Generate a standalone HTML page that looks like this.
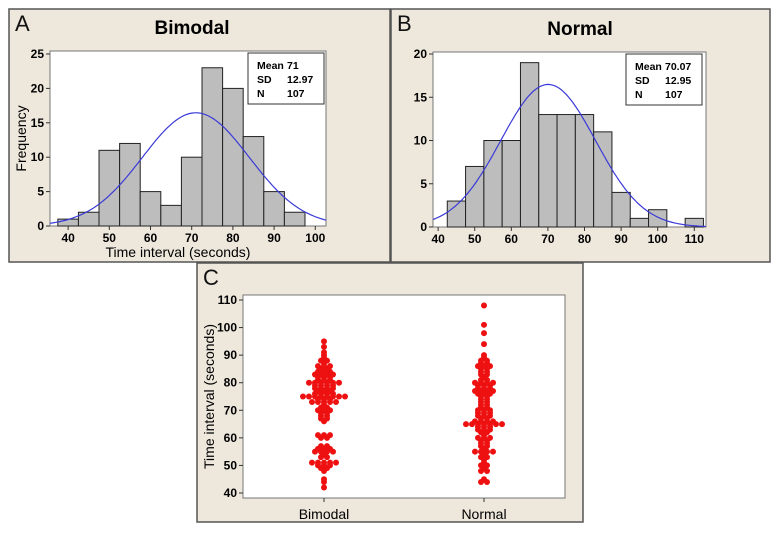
<!DOCTYPE html>
<html><head><meta charset="utf-8"><style>
body{margin:0;background:#fff;width:780px;height:531px;overflow:hidden;font-family:"Liberation Sans",sans-serif}
svg text{font-family:"Liberation Sans",sans-serif}
</style></head><body>
<svg id="fig" width="780" height="531" xmlns="http://www.w3.org/2000/svg"></svg>
<script>
const binCenters=[40,45,50,55,60,65,70,75,80,85,90,95,100,105,110];
const bimodalCounts=[1,2,11,12,5,3,10,23,20,13,5,2,0,0,0];
const normalCounts=[0,3,7,10,10,19,13,13,13,11,4,1,2,0,1];
const statsA=["Mean","71","SD","12.97","N","107"];
const statsB=["Mean","70.07","SD","12.95","N","107"];
const xTicksA=[40,50,60,70,80,90,100];
const yTicksA=[0,5,10,15,20,25];
const xTicksB=[40,50,60,70,80,90,100,110];
const yTicksB=[0,5,10,15,20];
const dotCats=["Bimodal","Normal"];
const bimodalVals=[42,1,44,1,45,1,48,1,49,2,50,3,51,5,53,2,54,1,55,4,56,3,57,2,60,2,61,3,66,1,67,2,68,2,69,2,70,3,71,2,72,1,73,5,74,3,75,8,76,4,77,3,78,4,79,4,80,6,81,3,82,3,83,4,84,3,85,2,86,3,87,1,88,2,89,1,90,1,91,1,93,1,95,1];
const normalVals=[44,2,45,1,48,2,49,1,50,2,51,1,52,1,53,2,54,1,55,4,56,1,57,2,58,2,59,2,60,3,61,1,62,2,63,3,64,3,65,7,66,4,67,2,68,3,69,3,70,3,71,2,72,2,73,2,74,2,75,2,76,3,77,4,78,3,79,3,80,4,81,2,82,1,83,2,84,2,85,2,86,3,87,2,88,2,89,1,90,1,94,1,98,1,101,1,108,1];
const yTicksC=[40,50,60,70,80,90,100,110];

const svg=document.getElementById('fig');
const NS='http://www.w3.org/2000/svg';
function mk(tag,attrs,parent,text){const e=document.createElementNS(NS,tag);for(const k in attrs)e.setAttribute(k,attrs[k]);if(text!==undefined)e.textContent=text;(parent||svg).appendChild(e);return e;}

function panel(x,y,w,h,letter,name){
  const g=mk('g',{});
  
  
  mk('rect',{x:x,y:y,width:w,height:h,fill:'#ede7dc',stroke:'#555','stroke-width':1.5},g);
  const t=mk('text',{x:x+6,y:y+22,'font-size':22,fill:'#111'},g,letter);
  
  
  return g;
}

function hist(opts){
  const {g,px,py,pw,ph,xmin,xmax,ymax,counts,xt,yt,mean,sd,stats,sx,title,tx,xlabel}=opts;
  const X=v=>px+(v-xmin)/(xmax-xmin)*pw;
  const Y=v=>py+ph-(v/ymax)*ph;
  mk('rect',{x:px,y:py,width:pw,height:ph,fill:'#fff',stroke:'#777'},g);
  const tt=mk('text',{x:tx,y:py-17,'font-size':19,'font-weight':'bold','text-anchor':'middle'},g,title);
  
  
  binCenters.forEach((c,i)=>{
    if(!counts[i])return;
    const r=mk('rect',{x:X(c-2.5),y:Y(counts[i]),width:X(c+2.5)-X(c-2.5),height:Y(0)-Y(counts[i]),fill:'#bdbdbd',stroke:'#222','stroke-width':1},g);
    
    
  });
  const n=counts.reduce((a,b)=>a+b,0);
  let d='';
  for(let v=xmin;v<=xmax;v+=0.5){
    const f=n*5/(sd*Math.sqrt(2*Math.PI))*Math.exp(-0.5*((v-mean)/sd)**2);
    d+=(d?'L':'M')+X(v).toFixed(1)+','+Y(f).toFixed(1);
  }
  const cp=mk('path',{d:d,fill:'none',stroke:'#3a3ad8','stroke-width':1.2},g);
  
  
  xt.forEach(v=>{mk('line',{x1:X(v),x2:X(v),y1:py+ph,y2:py+ph+4,stroke:'#333'},g);
    mk('text',{x:X(v),y:py+ph+16,'font-size':12,'font-weight':'bold','text-anchor':'middle'},g,v);});
  yt.forEach(v=>{mk('line',{x1:px-4,x2:px,y1:Y(v),y2:Y(v),stroke:'#333'},g);
    mk('text',{x:px-6,y:Y(v)+4,'font-size':12,'font-weight':'bold','text-anchor':'end'},g,v);});
  const sb=mk('g',{},g);
  
  
  mk('rect',{x:sx,y:py+2,width:76,height:51,fill:'#fff',stroke:'#333'},sb);
  for(let i=0;i<3;i++){
    mk('text',{x:sx+9,y:py+18+i*14,'font-size':10.5,'font-weight':'bold'},sb,stats[2*i]);
    mk('text',{x:sx+39,y:py+18+i*14,'font-size':10.5,'font-weight':'bold'},sb,stats[2*i+1]);
  }
  if(xlabel){const xl=mk('text',{x:px+pw/2-10,y:py+ph+31,'font-size':14,'text-anchor':'middle'},g,xlabel);
    
    const yl=mk('text',{transform:`translate(${px-24},${py+ph/2}) rotate(-90)`,'font-size':14,'text-anchor':'middle'},g,'Frequency');
    }
}

const gA=panel(9,9,381,253,'A','panel-a-bimodal');
hist({g:gA,px:50,py:51,pw:276,ph:175,xmin:35.6,xmax:102.6,ymax:25*175/172,counts:bimodalCounts,xt:xTicksA,yt:yTicksA,mean:71,sd:12.97,stats:statsA,sx:248,title:'Bimodal',tx:192,xlabel:'Time interval (seconds)'});
const gB=panel(391,9,379,253,'B','panel-b-normal');
hist({g:gB,px:433,py:52,pw:273,ph:175,xmin:38.6,xmax:113.2,ymax:20*175/173,counts:normalCounts,xt:xTicksB,yt:yTicksB,mean:70.07,sd:12.95,stats:statsB,sx:626,title:'Normal',tx:580});

// Panel C
const gC=panel(197,263,386,259,'C','panel-c-dotplot');
const cx=243,cy=295,cw=322,ch=203;
const YC=v=>493-(v-40)/70*193;
const XC=i=>[324,484][i];
mk('rect',{x:cx,y:cy,width:cw,height:ch,fill:'#fff',stroke:'#777'},gC);
yTicksC.forEach(v=>{mk('line',{x1:cx-4,x2:cx,y1:YC(v),y2:YC(v),stroke:'#333'},gC);
  mk('text',{x:cx-6,y:YC(v)+4,'font-size':12,'font-weight':'bold','text-anchor':'end'},gC,v);});
dotCats.forEach((c,i)=>{mk('line',{x1:XC(i),x2:XC(i),y1:cy+ch,y2:cy+ch+4,stroke:'#333'},gC);
  const t=mk('text',{x:XC(i),y:cy+ch+21,'font-size':14,'text-anchor':'middle'},gC,c);
  });
const ylc=mk('text',{transform:`translate(${cx-29},${cy+ch/2}) rotate(-90)`,'font-size':14,'text-anchor':'middle'},gC,'Time interval (seconds)');

[bimodalVals,normalVals].forEach((arr,ci)=>{
  for(let k=0;k<arr.length;k+=2){
    const v=arr[k],cnt=arr[k+1];
    for(let j=0;j<cnt;j++){
      const off=(j-(cnt-1)/2)*6;
      const dot=mk('circle',{cx:XC(ci)+off,cy:YC(v),r:3,fill:'#ee1111'},gC);
      
      
    }
  }
});
</script>
</body></html>
